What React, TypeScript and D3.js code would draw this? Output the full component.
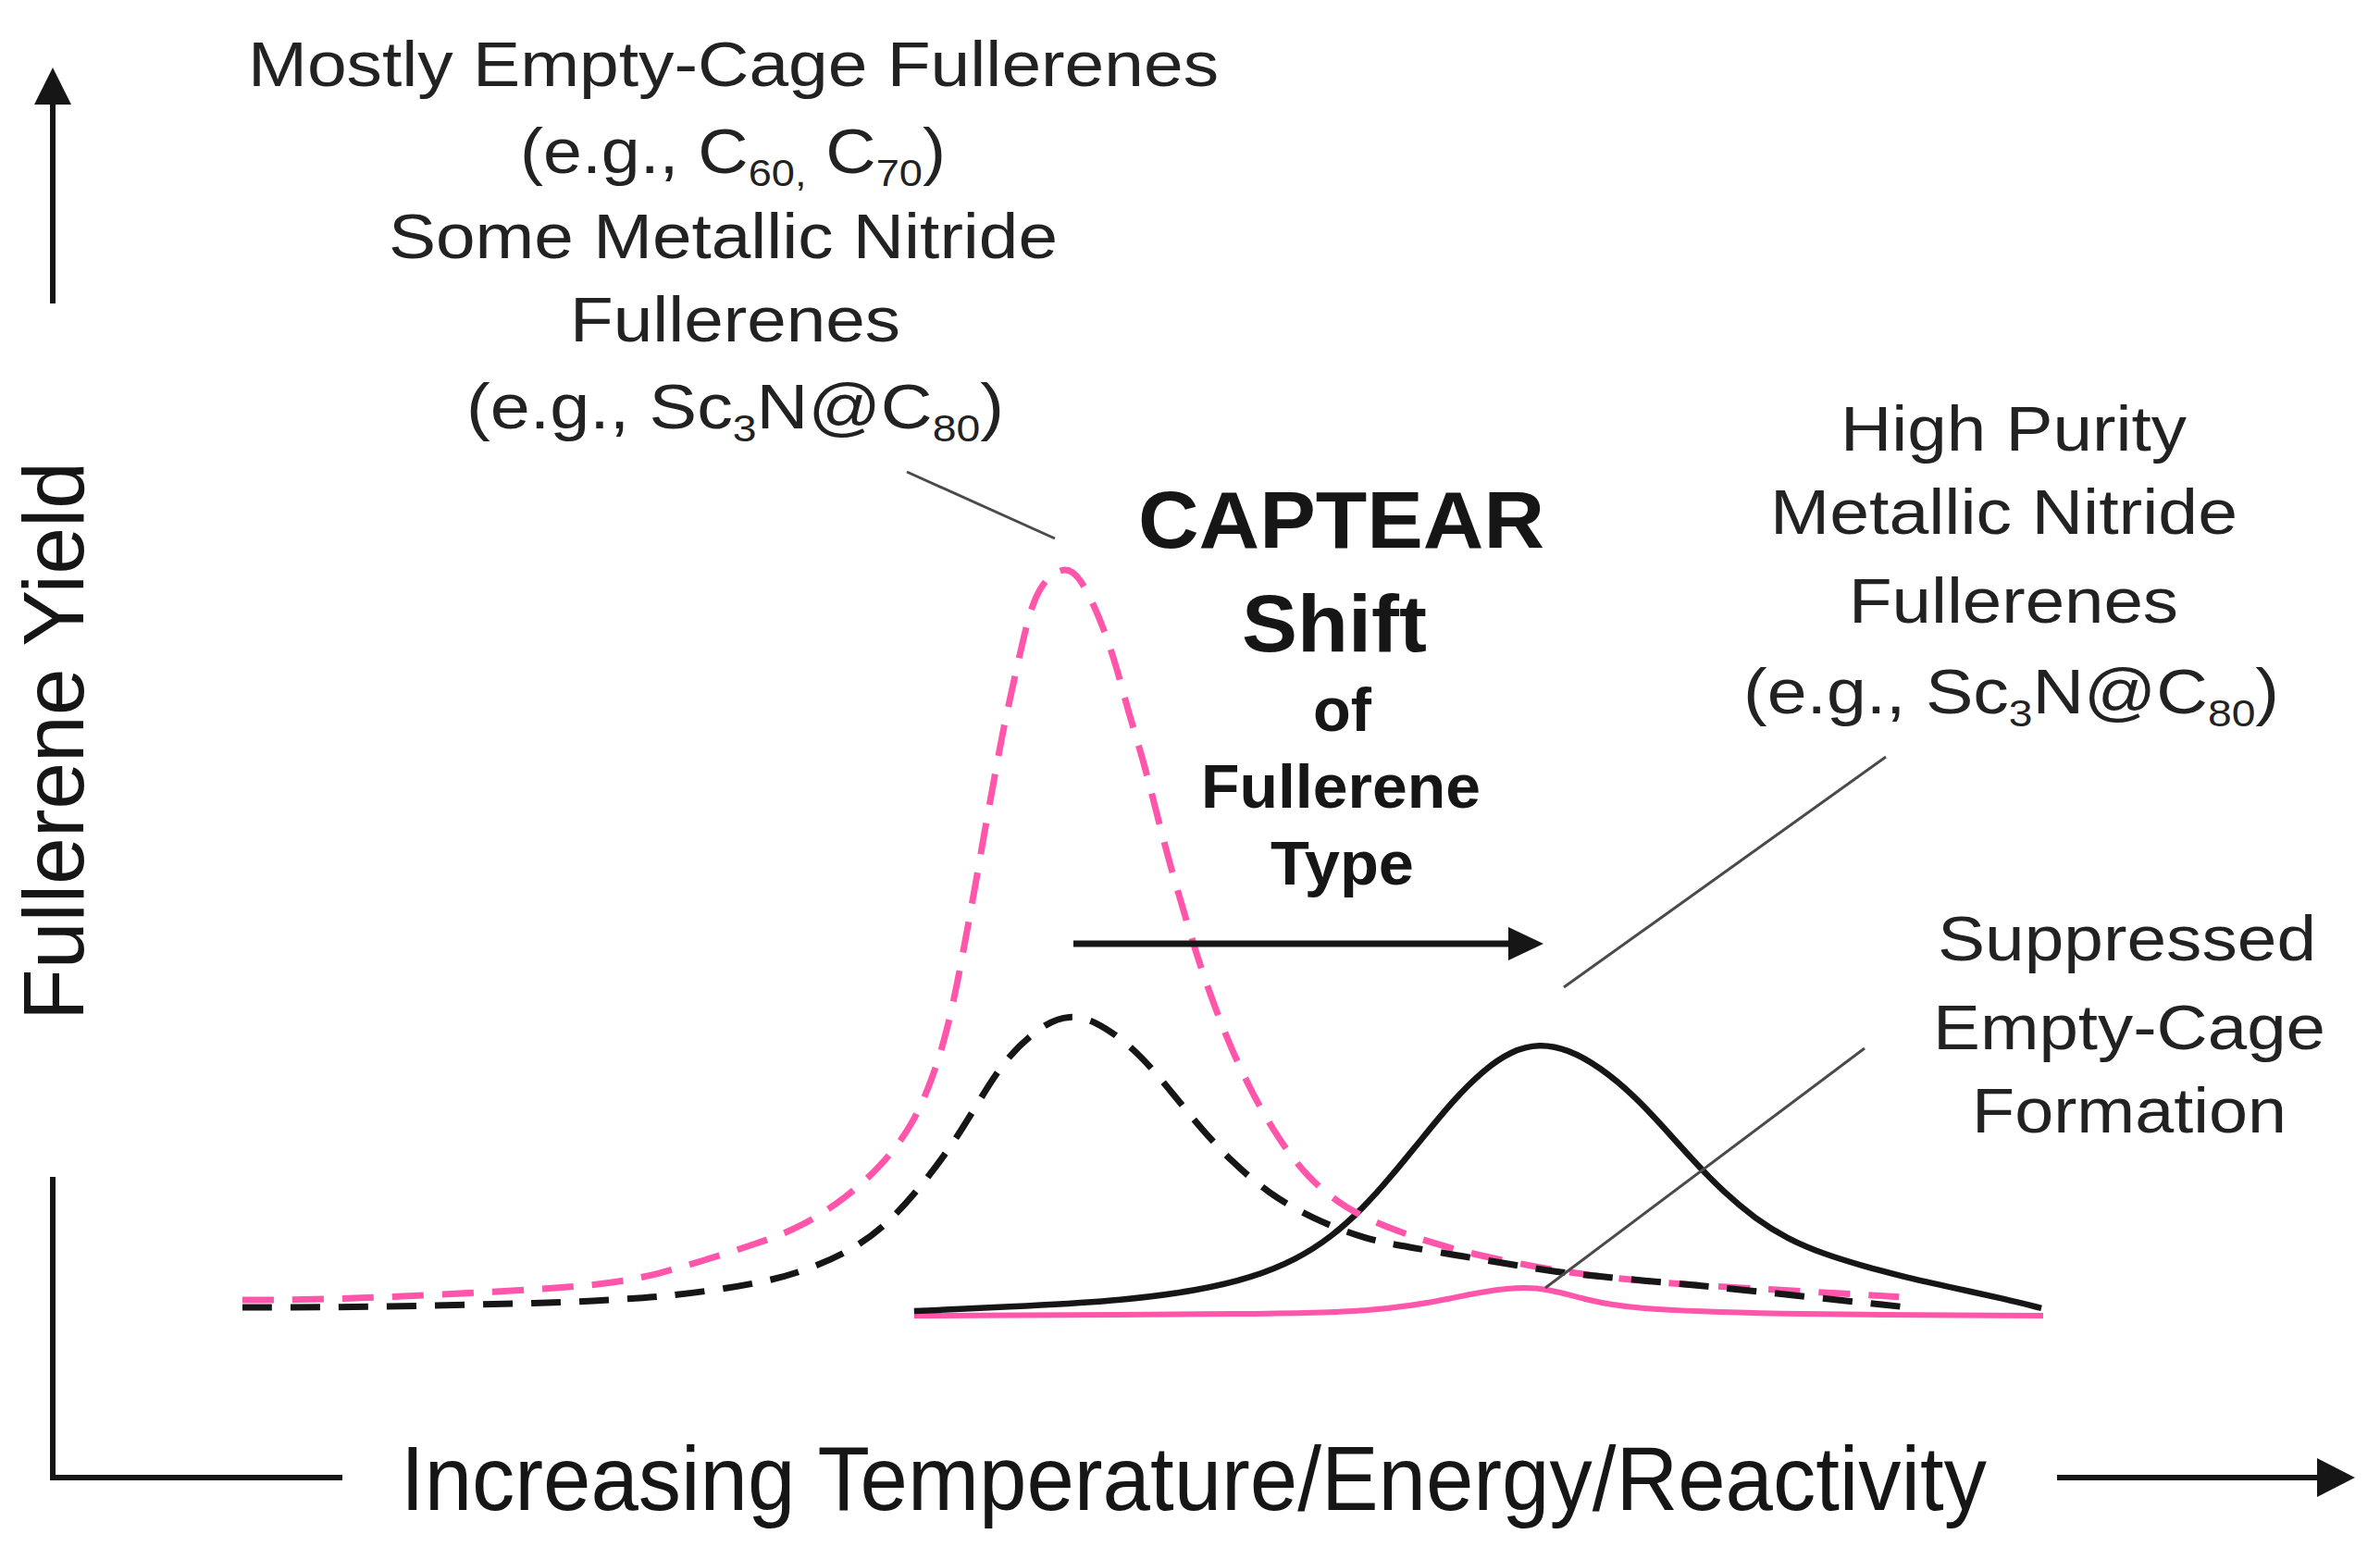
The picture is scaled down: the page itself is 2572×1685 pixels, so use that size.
import React from "react";
import * as d3 from "d3";

// x: relative temperature/energy (0-100), y: relative fullerene yield (0-100)
const emptyCageConventional: [number, number][] = [
  [0, 2.1], [5.5, 2.1], [17.5, 3.6], [20.5, 4.3], [23.1, 5.5], [25.7, 7.4], [28.5, 9.5],
  [31.0, 11.7], [33.5, 15.6], [35.5, 19.9], [37.2, 25.2], [38.3, 31.3], [39.1, 37.5],
  [39.7, 44.1], [40.2, 50.6], [40.7, 57.1], [41.2, 64.1], [41.7, 70.6], [42.2, 77.3],
  [42.8, 83.8], [43.4, 90.3], [43.9, 94.8], [44.6, 97.9], [45.7, 99.5], [46.5, 98.2],
  [47.6, 92.8], [48.5, 86.6], [49.2, 80.1], [50.0, 74.0], [50.7, 67.4], [51.4, 60.8],
  [52.2, 54.3], [53.0, 47.8], [53.9, 41.6], [54.9, 35.5], [56.1, 29.4], [57.5, 23.6],
  [59.1, 18.4], [61.3, 14.1], [63.8, 11.5], [66.0, 9.7], [68.6, 8.0], [72.0, 6.4],
  [74.6, 5.4], [78.9, 4.3], [84.0, 3.6], [92.0, 2.5]
];

const nitrideConventional: [number, number][] = [
  [0, 1.1], [6.4, 1.1], [17.5, 1.7], [20.5, 2.1], [23.2, 2.5], [26.0, 3.3], [28.8, 4.4],
  [31.1, 5.8], [34.0, 8.8], [36.1, 12.8], [37.9, 17.8], [39.6, 23.3], [41.0, 28.9],
  [42.5, 34.6], [44.6, 38.9], [45.9, 39.9], [47.3, 39.3], [49.5, 35.6], [51.3, 30.6],
  [53.1, 25.2], [54.9, 20.5], [57.0, 16.2], [59.4, 12.9], [62.4, 10.1], [64.8, 9.1],
  [67.7, 7.9], [70.5, 6.8], [72.9, 5.8], [75.4, 5.2], [78.5, 4.5], [81.4, 3.9],
  [83.8, 3.3], [92.5, 1.1]
];

const nitrideCaptear: [number, number][] = [
  [37.3, 0.6], [43.7, 1.3], [48.9, 2.0], [53.2, 3.4], [56.0, 5.0], [58.5, 7.4],
  [60.5, 10.5], [62.2, 14.2], [63.8, 18.5], [65.5, 23.5], [67.2, 28.5], [68.9, 32.6],
  [70.5, 35.2], [72.0, 36.1], [73.6, 35.4], [75.4, 33.0], [77.3, 29.2], [79.0, 24.8],
  [80.6, 20.5], [82.3, 16.3], [84.0, 12.9], [85.8, 10.2], [87.8, 8.2], [90.0, 6.6],
  [92.5, 5.0], [95.0, 3.7], [97.9, 2.2], [99.9, 1.0]
];

const emptyCageCaptear: [number, number][] = [
  [37.3, 0], [57.5, 0.2], [62.6, 0.6], [66.0, 1.7], [68.6, 3.1], [70.8, 3.8],
  [72.5, 3.6], [74.6, 2.1], [77.1, 0.9], [84.0, 0.2], [100, 0]
];

const leftLabelLines = [
  "Mostly Empty-Cage Fullerenes",
  "(e.g., C60, C70)",
  "Some Metallic Nitride",
  "Fullerenes",
  "(e.g., Sc3N@C80)"
];
const rightLabelLines = ["High Purity", "Metallic Nitride", "Fullerenes", "(e.g., Sc3N@C80)"];
const suppressedLines = ["Suppressed", "Empty-Cage", "Formation"];
const shiftLines = ["CAPTEAR", "Shift", "of", "Fullerene", "Type"];
const xAxisLabel = "Increasing Temperature/Energy/Reactivity";
const yAxisLabel = "Fullerene Yield";

const W = 2572;
const H = 1685;
const PINK = "#ff55aa";
const INK = "#161616";
const FONT = "'Liberation Sans', Arial, Helvetica, sans-serif";

const x = d3.scaleLinear().domain([0, 100]).range([262, 2208]);
const y = d3.scaleLinear().domain([0, 100]).range([1422, 608]);
const line = d3
  .line<[number, number]>()
  .x((d) => x(d[0]))
  .y((d) => y(d[1]))
  .curve(d3.curveBasis);

// Render text that may contain chemical subscripts: digits after C / Sc become subscripts
function Chem({ text, fs }: { text: string; fs: number }) {
  const parts: { t: string; sub: boolean }[] = [];
  const re = /(Sc|C)(\d+,?)/g;
  let last = 0;
  let m: RegExpExecArray | null;
  while ((m = re.exec(text))) {
    const end = m.index + m[1].length;
    parts.push({ t: text.slice(last, end), sub: false });
    parts.push({ t: m[2], sub: true });
    last = end + m[2].length;
  }
  parts.push({ t: text.slice(last), sub: false });
  const shift = Math.round(fs * 0.2);
  let cur = 0;
  return (
    <>
      {parts.map((p, i) => {
        const dy = p.sub ? shift - cur : -cur;
        cur = p.sub ? shift : 0;
        return (
          <tspan key={i} dy={dy} fontSize={p.sub ? fs * 0.6 : fs}>
            {p.t}
          </tspan>
        );
      })}
    </>
  );
}

export default function App() {
  const FS = 69;
  const leftSpans = [
    { x0: 268, x1: 1317, yb: 93 },
    { x0: 562, x1: 1022, yb: 187 },
    { x0: 420, x1: 1143, yb: 279 },
    { x0: 616, x1: 973, yb: 369 },
    { x0: 504, x1: 1085, yb: 463 }
  ];
  const rightSpans = [
    { x0: 1989, x1: 2363, yb: 487 },
    { x0: 1913, x1: 2418, yb: 577 },
    { x0: 1998, x1: 2354, yb: 673 },
    { x0: 1884, x1: 2463, yb: 771 }
  ];
  const suppSpans = [
    { x0: 2094, x1: 2503, yb: 1038 },
    { x0: 2089, x1: 2513, yb: 1134 },
    { x0: 2131, x1: 2471, yb: 1224 }
  ];
  const shiftSpans = [
    { x0: 1230, x1: 1669, yb: 592, fs: 88 },
    { x0: 1342, x1: 1542, yb: 704, fs: 88 },
    { x0: 1419, x1: 1482, yb: 790, fs: 66 },
    { x0: 1298, x1: 1600, yb: 873, fs: 66 },
    { x0: 1373, x1: 1528, yb: 956, fs: 66 }
  ];

  return (
    <svg
      width={W}
      height={H}
      viewBox={`0 0 ${W} ${H}`}
      style={{ position: "absolute", left: 0, top: 0, background: "#fff" }}
      fontFamily={FONT}
    >
      <rect x={0} y={0} width={W} height={H} fill="#fff" />

      {/* axes */}
      <g stroke={INK} strokeWidth={6} fill="none">
        <line x1={57} y1={108} x2={57} y2={328} />
        <line x1={57} y1={1272} x2={57} y2={1597} />
        <line x1={54} y1={1597} x2={370} y2={1597} />
        <line x1={2223} y1={1597} x2={2508} y2={1597} />
      </g>
      <path d="M57,73 L37,113 L77,113 Z" fill={INK} />
      <path d="M2545,1597 L2504,1576 L2504,1618 Z" fill={INK} />

      {/* axis labels */}
      <text x={433} y={1632} fontSize={98} fill={INK} textLength={1714} lengthAdjust="spacingAndGlyphs">
        {xAxisLabel}
      </text>
      <text
        transform="translate(90,801) rotate(-90)"
        textAnchor="middle"
        fontSize={92}
        fill={INK}
        textLength={604}
        lengthAdjust="spacingAndGlyphs"
      >
        {yAxisLabel}
      </text>

      {/* curves */}
      <path d={line(emptyCageCaptear) || ""} fill="none" stroke={PINK} strokeWidth={6} />
      <path d={line(nitrideCaptear) || ""} fill="none" stroke={INK} strokeWidth={6.5} />
      <path d={line(emptyCageConventional) || ""} fill="none" stroke={PINK} strokeWidth={7} strokeDasharray="34 20" />
      <path d={line(nitrideConventional) || ""} fill="none" stroke={INK} strokeWidth={7} strokeDasharray="32 20" />

      {/* shift arrow */}
      <line x1={1160} y1={1020} x2={1632} y2={1020} stroke={INK} strokeWidth={7} />
      <path d="M1668,1020 L1630,1002 L1630,1038 Z" fill={INK} />

      {/* leader lines */}
      <g stroke="#4a4a4a" strokeWidth={3}>
        <line x1={980} y1={510} x2={1140} y2={582} />
        <line x1={2038} y1={818} x2={1690} y2={1067} />
        <line x1={2015} y1={1133} x2={1670} y2={1392} />
      </g>

      {/* left annotation */}
      {leftLabelLines.map((t, i) => (
        <text
          key={"l" + i}
          x={leftSpans[i].x0}
          y={leftSpans[i].yb}
          fontSize={FS}
          fill="#222"
          textLength={leftSpans[i].x1 - leftSpans[i].x0}
          lengthAdjust="spacingAndGlyphs"
        >
          <Chem text={t} fs={FS} />
        </text>
      ))}

      {/* right annotation */}
      {rightLabelLines.map((t, i) => (
        <text
          key={"r" + i}
          x={rightSpans[i].x0}
          y={rightSpans[i].yb}
          fontSize={FS}
          fill="#222"
          textLength={rightSpans[i].x1 - rightSpans[i].x0}
          lengthAdjust="spacingAndGlyphs"
        >
          <Chem text={t} fs={FS} />
        </text>
      ))}

      {suppressedLines.map((t, i) => (
        <text
          key={"s" + i}
          x={suppSpans[i].x0}
          y={suppSpans[i].yb}
          fontSize={FS}
          fill="#222"
          textLength={suppSpans[i].x1 - suppSpans[i].x0}
          lengthAdjust="spacingAndGlyphs"
        >
          {t}
        </text>
      ))}

      {shiftLines.map((t, i) => (
        <text
          key={"c" + i}
          x={shiftSpans[i].x0}
          y={shiftSpans[i].yb}
          fontSize={shiftSpans[i].fs}
          fontWeight="bold"
          fill={INK}
          textLength={shiftSpans[i].x1 - shiftSpans[i].x0}
          lengthAdjust="spacingAndGlyphs"
        >
          {t}
        </text>
      ))}
    </svg>
  );
}
